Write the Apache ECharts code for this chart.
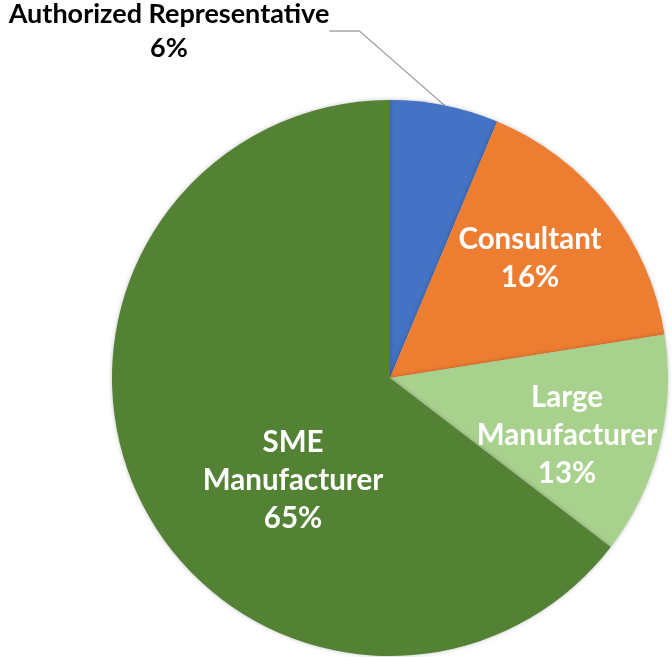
<!DOCTYPE html>
<html>
<head>
<meta charset="utf-8">
<script src="https://cdn.jsdelivr.net/npm/echarts@6/dist/echarts.min.js"></script>
<style>
  html, body { margin: 0; padding: 0; background: #fff; }
  #chart { width: 672px; height: 657px; }
</style>
</head>
<body>
<div id="chart"></div>
<script>
const categories = ['Authorized Representative', 'Consultant', 'Large\nManufacturer', 'SME\nManufacturer']
const shares = [6.3, 16.2, 12.9, 64.6]
const colors = ['#4472C4', '#ED7D31', '#A9D18E', '#548235']

// where each label sits (Excel put them off the slice midpoints)
const labelSpots = [[169, 31], [530, 258], [567, 435], [293, 480]]

const chart = echarts.init(document.getElementById('chart'))

chart.setOption({
  animation: false,
  series: [
    {
      type: 'pie',
      center: [390, 378],
      radius: 278,
      startAngle: 90,
      clockwise: true,
      percentPrecision: 0,
      data: categories.map((name, i) => ({
        name: name,
        value: shares[i],
        itemStyle: { color: colors[i] },
        label: i === 0
          ? { position: 'outside', color: '#000', fontSize: 27, lineHeight: 34 }
          : { position: 'inside', color: '#fff', fontSize: 29.5, lineHeight: 38 },
        labelLine: { show: i === 0 }
      })),
      itemStyle: {
        shadowBlur: 4,
        shadowColor: 'rgba(0,0,0,0.25)'
      },
      label: {
        formatter: '{b}\n{d}%',
        fontFamily: 'Lato',
        fontWeight: 'bold',
        align: 'center',
        overflow: 'none'
      },
      labelLine: {
        lineStyle: { color: '#a6a6a6', width: 1.3 }
      },
      labelLayout: (params) => {
        const p = labelSpots[params.dataIndex]
        return { x: p[0], y: p[1], align: 'center', verticalAlign: 'middle' }
      }
    }
  ]
})
</script>
</body>
</html>
